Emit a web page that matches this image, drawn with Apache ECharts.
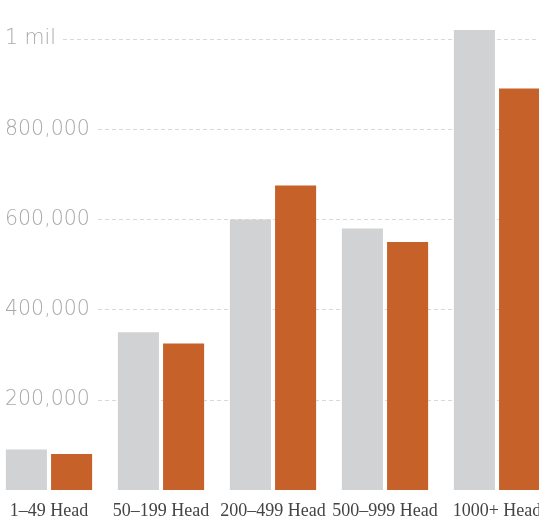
<!DOCTYPE html>
<html><head><meta charset="utf-8">
<script src="https://cdn.jsdelivr.net/npm/echarts@6/dist/echarts.min.js"></script>
<style>html,body{margin:0;padding:0;background:#fff}#c{width:539px;height:520px}</style>
</head><body><div id="c"></div>
<script>
const categories = ['1–49 Head', '50–199 Head', '200–499 Head', '500–999 Head', '1000+ Head'];
const seriesA = [90000, 350000, 600000, 580000, 1020000];
const seriesB = [80000, 325000, 675000, 550000, 890000];
const yTicks = {0: '', 200000: '200,000', 400000: '400,000', 600000: '600,000', 800000: '800,000', 1000000: '1 mil'};

const chart = echarts.init(document.getElementById('c'));
chart.setOption({
  animation: false,
  grid: {left: -7, width: 560, top: 39, bottom: 30, containLabel: false, outerBoundsMode: 'none'},
  xAxis: {
    type: 'category', data: categories,
    axisLine: {show: false}, axisTick: {show: false},
    axisLabel: {color: '#444', fontFamily: 'Liberation Serif', fontSize: 18, margin: 12, interval: 0}
  },
  yAxis: {
    type: 'value', min: 0, max: 1000000, interval: 200000,
    axisLine: {show: false}, axisTick: {show: false},
    splitLine: {lineStyle: {color: ['rgba(0,0,0,0)', '#d9d9d9', '#d9d9d9', '#d9d9d9', '#d9d9d9', '#d9d9d9'], type: [4, 3], width: 1}},
    axisLabel: {
      inside: true, margin: 4, color: '#a9a9a9', fontFamily: 'DejaVu Sans', fontWeight: 200, fontSize: 20.5,
      backgroundColor: '#fff', padding: [0, 6, 0, 8],
      formatter: v => yTicks[v] !== undefined ? yTicks[v] : ''
    }
  },
  series: [
    {type: 'bar', data: seriesA, clip: false, itemStyle: {color: '#d1d2d4'}, barGap: '10%', barCategoryGap: '23%'},
    {type: 'bar', data: seriesB, clip: false, itemStyle: {color: '#c7612a'}}
  ]
});
</script></body></html>
